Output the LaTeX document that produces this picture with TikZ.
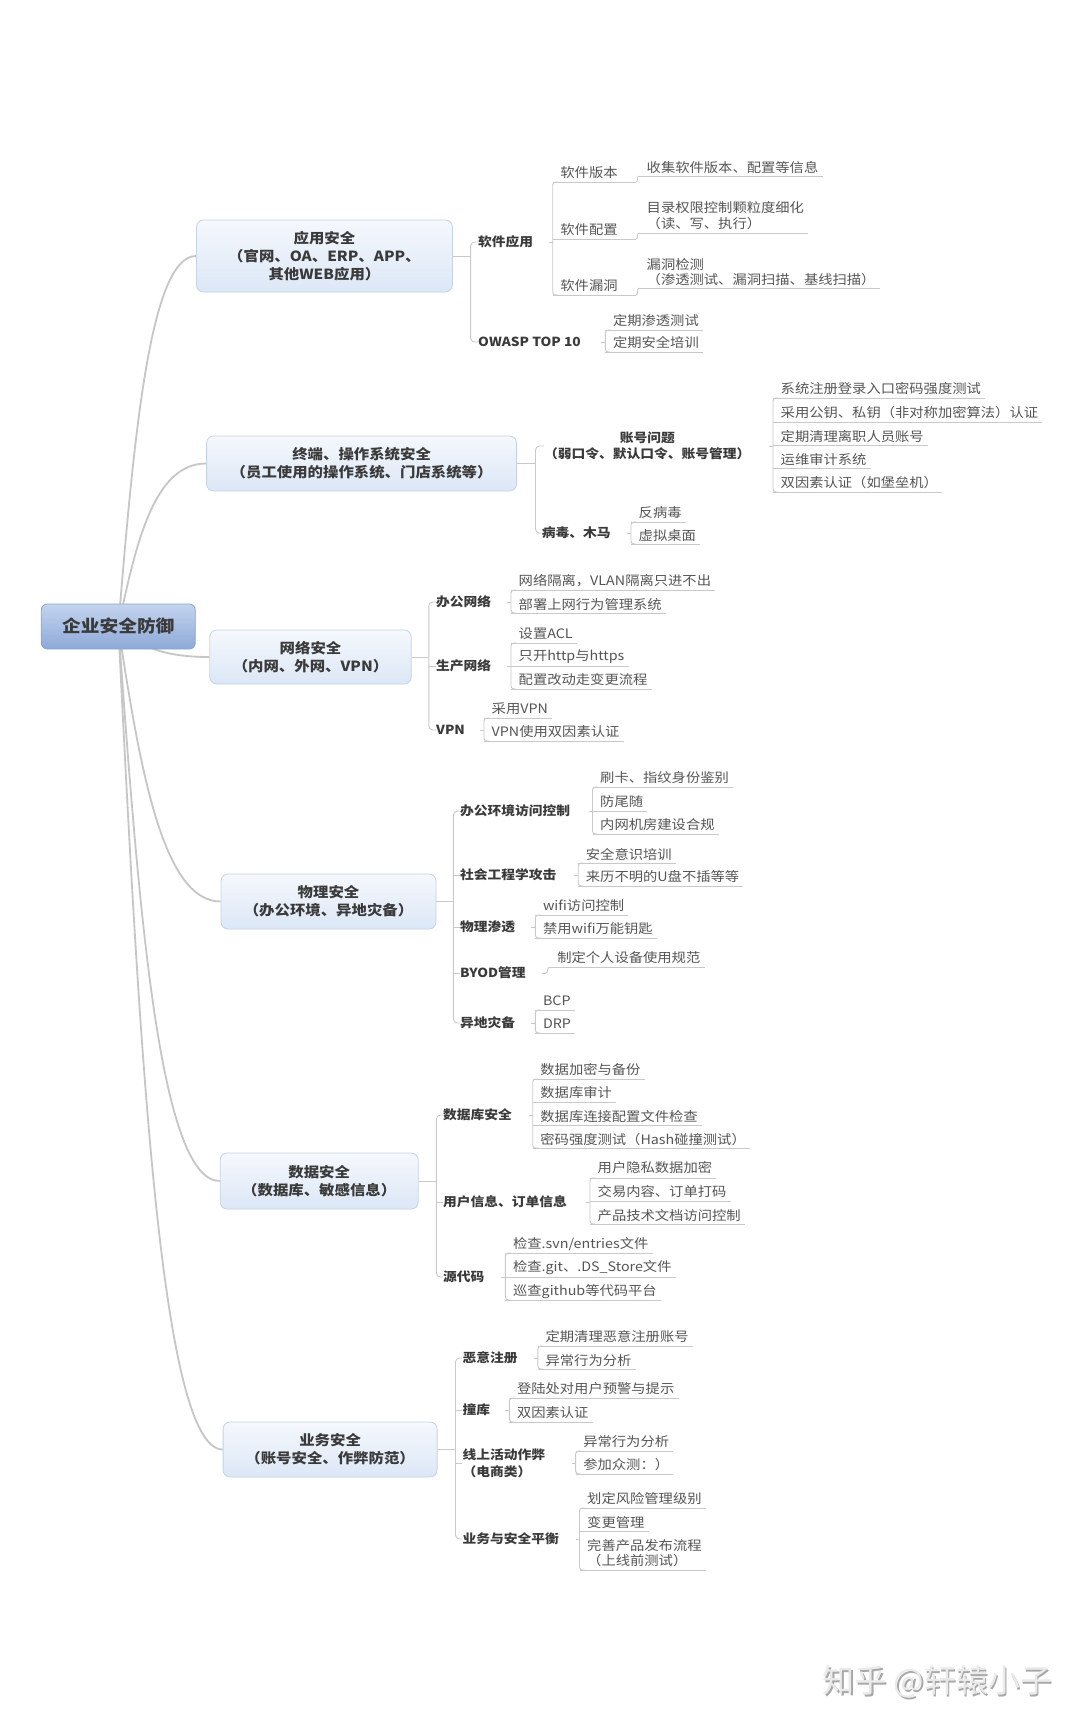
\documentclass[tikz,border=0pt]{standalone}
\usepackage{fontspec}
\setmainfont{Noto Sans CJK SC}[FakeStretch=1.1]
\newfontfamily\wmfont{Noto Sans CJK SC}
\usetikzlibrary{backgrounds,calc}
\definecolor{lineC}{HTML}{C9C9C9}
\definecolor{rootC}{HTML}{C6C6C6}
\definecolor{leafT}{HTML}{555555}
\definecolor{midT}{HTML}{3A3A3A}
\definecolor{topT}{HTML}{3A3A3A}
\definecolor{topB}{HTML}{C6D3E6}
\definecolor{topTop}{HTML}{F5F8FD}
\definecolor{topBot}{HTML}{DCE7F6}
\definecolor{rootB}{HTML}{8BA5D1}
\definecolor{rootTop}{HTML}{C3D4EE}
\definecolor{rootBot}{HTML}{8EA9D8}
\definecolor{wmT}{HTML}{EAEAEA}
\definecolor{wmS}{HTML}{A8A8A8}
\tikzset{
  conn/.style={draw=lineC,line width=0.9pt},
  rootlink/.style={draw=rootC,line width=1.8pt},
  leaf/.style={anchor=west,inner sep=0pt,text=leafT,font=\fontsize{13}{15.5}\selectfont,align=left},
  mid/.style={anchor=west,inner sep=0pt,text=midT,font=\bfseries\fontsize{12.5}{16.5}\selectfont,align=left},
  topic/.style={rounded corners=7pt,draw=topB,line width=0.8pt,top color=topTop,bottom color=topBot,text=topT,font=\bfseries\fontsize{14}{18}\selectfont,align=center,inner sep=0pt},
  rootbox/.style={rounded corners=6pt,draw=rootB,line width=0.8pt,top color=rootTop,bottom color=rootBot,text=topT,font=\bfseries\fontsize{17}{22}\selectfont,inner sep=0pt,minimum width=154pt,minimum height=45pt},
}
\newcommand\lf[5]{%
  \node[leaf] (#1) at (#2+7.5,#3) {#4};
  \coordinate (#1u0) at (#2,#5);
  \path (#1.east |- #1u0) ++(4,0) coordinate (#1u1);
  \draw[conn] (#1u0) -- (#1u1);}
\newcommand\lfx[6]{%
  \node[leaf] (#1) at (#2+7.5,#3) {#4};
  \coordinate (#1u0) at (#2,#5);
  \coordinate (#1u1) at (#6,#5);
  \draw[conn] (#1u0) -- (#1u1);}
\newcommand\brk[2]{\draw[conn,rounded corners=3pt] ([xshift=5pt]#1u0) -- (#1u0) -- (#2u0) -- ([xshift=5pt]#2u0);}
\newcommand\stub[3]{\coordinate (#1s) at (#2,#3); \draw[conn] ([xshift=-4pt]#1s) -- (#1s);}
\begin{document}
\begin{tikzpicture}[x=1pt,y=-1pt]
\useasboundingbox (0,0) rectangle (1080,1729);

% root and topics
\node[rootbox] (root) at (118.3,626.5) {企业安全防御};
\node[topic,minimum width=256pt,minimum height=72pt] (t1) at (324.4,256) {应用安全\\（官网、OA、ERP、APP、\\其他WEB应用）};
\node[topic,minimum width=310pt,minimum height=55pt] (t2) at (361.6,463.5) {终端、操作系统安全\\（员工使用的操作系统、门店系统等）};
\node[topic,minimum width=201.5pt,minimum height=54pt] (t3) at (310.5,657) {网络安全\\（内网、外网、VPN）};
\node[topic,minimum width=215pt,minimum height=55pt] (t4) at (328.5,901.5) {物理安全\\（办公环境、异地灾备）};
\node[topic,minimum width=198pt,minimum height=56pt] (t5) at (319.2,1181) {数据安全\\（数据库、敏感信息）};
\node[topic,minimum width=214pt,minimum height=55pt] (t6) at (330.1,1449.5) {业务安全\\（账号安全、作弊防范）};

\begin{scope}[on background layer]
\fill[white] (0,0) rectangle (1080,1729);
\draw[rootlink] (root.center) .. controls (133.6,441.5) and (149.5,256) .. (t1.west);
\draw[rootlink] (root.center) .. controls (135.7,545) and (153.4,463.5) .. (t2.west);
\draw[rootlink] (root.center) .. controls (136.3,642) and (154.7,657) .. (t3.west);
\draw[rootlink] (root.center) .. controls (140,770) and (163,901.5) .. (t4.west);
\draw[rootlink] (root.center) .. controls (138.4,904) and (158.8,1181) .. (t5.west);
\draw[rootlink] (root.center) .. controls (139,1038) and (160,1449.5) .. (t6.west);
\end{scope}

% ===== Section 1
\node[mid] (m11) at (478,242) {软件应用};
\node[mid] (m12) at (478,342) {OWASP TOP 10};
\draw[conn] (t1.east) -- (470.6,256);
\draw[conn,rounded corners=4pt] (m11.west) -- (470.6,242) -- (470.6,342) -- (m12.west);

\stub{m11}{552.7}{242}
\lfx{a1}{552.7}{173}{软件版本}{182}{636}
\lfx{a2}{552.7}{230}{软件配置}{239}{636}
\lfx{a3}{552.7}{286}{软件漏洞}{295}{636}
\brk{a1}{a3}
\lf{a11}{639}{168}{收集软件版本、配置等信息}{176}
\lf{a21}{639}{215.5}{目录权限控制颗粒度细化\\（读、写、执行）}{233}
\lf{a31}{639}{272}{漏洞检测\\（渗透测试、漏洞扫描、基线扫描）}{288}
\draw[conn] (a1u1) to[out=0,in=180] (a11u0);
\draw[conn] (a2u1) to[out=0,in=180] (a21u0);
\draw[conn] (a3u1) to[out=0,in=180] (a31u0);

\stub{m12}{605.3}{342}
\lf{b1}{605.3}{321}{定期渗透测试}{330}
\lf{b2}{605.3}{343}{定期安全培训}{352}
\brk{b1}{b2}

% ===== Section 2
\node[mid,align=center] (m21) at (544,446) {账号问题\\（弱口令、默认口令、账号管理）};
\node[mid] (m22) at (541.6,533) {病毒、木马};
\draw[conn] (t2.east) -- (535.5,463.5);
\draw[conn,rounded corners=4pt] (m21.west) -- (535.5,446) -- (535.5,533) -- (m22.west);

\stub{m21}{773}{446}
\lf{c1}{773}{389}{系统注册登录入口密码强度测试}{398}
\lf{c2}{773}{413}{采用公钥、私钥（非对称加密算法）认证}{422}
\lf{c3}{773}{437}{定期清理离职人员账号}{445}
\lf{c4}{773}{460}{运维审计系统}{468}
\lf{c5}{773}{483}{双因素认证（如堡垒机）}{492}
\brk{c1}{c5}

\stub{m22}{631}{533}
\lf{d1}{631}{513}{反病毒}{522}
\lf{d2}{631}{536}{虚拟桌面}{544}
\brk{d1}{d2}

% ===== Section 3
\node[mid] (m31) at (436,602) {办公网络};
\node[mid] (m32) at (436,666) {生产网络};
\node[mid] (m33) at (436,730) {VPN};
\draw[conn] (t3.east) -- (428.8,657);
\draw[conn,rounded corners=4pt] (m31.west) -- (428.8,602) -- (428.8,730) -- (m33.west);
\draw[conn] (428.8,666) -- (m32.west);

\stub{m31}{511}{602}
\lf{e1}{511}{581}{网络隔离，VLAN隔离只进不出}{590}
\lf{e2}{511}{605}{部署上网行为管理系统}{613}
\brk{e1}{e2}

\stub{m32}{511}{666}
\lf{f1}{511}{634}{设置ACL}{643}
\lf{f2}{511}{657}{只开http与https}{666}
\lf{f3}{511}{680}{配置改动走变更流程}{689}
\brk{f1}{f3}

\stub{m33}{484}{730}
\lf{g1}{484}{709}{采用VPN}{718}
\lf{g2}{484}{732}{VPN使用双因素认证}{741}
\brk{g1}{g2}

% ===== Section 4
\node[mid] (m41) at (459.8,811) {办公环境访问控制};
\node[mid] (m42) at (459.8,875) {社会工程学攻击};
\node[mid] (m43) at (459.8,927) {物理渗透};
\node[mid] (m44) at (459.8,973) {BYOD管理};
\node[mid] (m45) at (459.8,1023) {异地灾备};
\draw[conn] (t4.east) -- (453.4,901.5);
\draw[conn,rounded corners=4pt] (m41.west) -- (453.4,811) -- (453.4,1023) -- (m45.west);
\draw[conn] (453.4,875) -- (m42.west);
\draw[conn] (453.4,927) -- (m43.west);
\draw[conn] (453.4,973) -- (m44.west);

\stub{m41}{592.5}{811}
\lf{h1}{592.5}{778}{刷卡、指纹身份鉴别}{787}
\lf{h2}{592.5}{802}{防尾随}{811}
\lf{h3}{592.5}{825}{内网机房建设合规}{834}
\brk{h1}{h3}

\stub{m42}{578.2}{875}
\lf{i1}{578.2}{854}{安全意识培训}{863}
\lf{i2}{578.2}{877}{来历不明的U盘不插等等}{886}
\brk{i1}{i2}

\stub{m43}{535.3}{927}
\lf{j1}{535.3}{906}{wifi访问控制}{915}
\lf{j2}{535.3}{929}{禁用wifi万能钥匙}{938}
\brk{j1}{j2}

\stub{m44}{545.7}{973}
\lf{k1}{549.6}{958}{制定个人设备使用规范}{967}
\draw[conn] (m44s) to[out=0,in=180] (k1u0);

\stub{m45}{535.3}{1023}
\lf{l1}{535.3}{1001}{BCP}{1010}
\lf{l2}{535.3}{1024}{DRP}{1033}
\brk{l1}{l2}

% ===== Section 5
\node[mid] (m51) at (443,1115) {数据库安全};
\node[mid] (m52) at (443,1202) {用户信息、订单信息};
\node[mid] (m53) at (443,1277) {源代码};
\draw[conn] (t5.east) -- (436.4,1181);
\draw[conn,rounded corners=4pt] (m51.west) -- (436.4,1115) -- (436.4,1277) -- (m53.west);
\draw[conn] (436.4,1202) -- (m52.west);

\stub{m51}{532.7}{1115}
\lf{n1}{532.7}{1070}{数据加密与备份}{1079}
\lf{n2}{532.7}{1093}{数据库审计}{1102}
\lf{n3}{532.7}{1117}{数据库连接配置文件检查}{1125}
\lf{n4}{532.7}{1140}{密码强度测试（Hash碰撞测试）}{1148}
\brk{n1}{n4}

\stub{m52}{590}{1202}
\lf{o1}{590}{1168}{用户隐私数据加密}{1178}
\lf{o2}{590}{1192}{交易内容、订单打码}{1201}
\lf{o3}{590}{1216}{产品技术文档访问控制}{1224}
\brk{o1}{o3}

\stub{m53}{505.4}{1277}
\lf{p1}{505.4}{1244}{检查.svn/entries文件}{1253}
\lf{p2}{505.4}{1268}{检查.git、.DS\_Store文件}{1277}
\lf{p3}{505.4}{1292}{巡查github等代码平台}{1300}
\brk{p1}{p3}

% ===== Section 6
\node[mid] (m61) at (462.4,1358) {恶意注册};
\node[mid] (m62) at (462.4,1410) {撞库};
\node[mid] (m63) at (462.4,1463) {线上活动作弊\\（电商类）};
\node[mid] (m64) at (462.4,1539) {业务与安全平衡};
\draw[conn] (t6.east) -- (455.5,1449.5);
\draw[conn,rounded corners=4pt] (m61.west) -- (455.5,1358) -- (455.5,1539) -- (m64.west);
\draw[conn] (455.5,1410) -- (m62.west);
\draw[conn] (455.5,1463) -- (m63.west);

\stub{m61}{537.9}{1358}
\lf{q1}{537.9}{1337}{定期清理恶意注册账号}{1346}
\lf{q2}{537.9}{1361}{异常行为分析}{1369}
\brk{q1}{q2}

\stub{m62}{509.3}{1410}
\lf{r1}{509.3}{1389}{登陆处对用户预警与提示}{1398}
\lf{r2}{509.3}{1413}{双因素认证}{1422}
\brk{r1}{r2}

\stub{m63}{575.6}{1463}
\lf{s1}{575.6}{1442}{异常行为分析}{1451}
\lf{s2}{575.6}{1465}{参加众测：）}{1474}
\brk{s1}{s2}

\stub{m64}{579.5}{1539}
\lf{u1}{579.5}{1499}{划定风险管理级别}{1508}
\lf{u2}{579.5}{1522}{变更管理}{1531}
\lf{u3}{579.5}{1553}{完善产品发布流程\\（上线前测试）}{1570}
\brk{u1}{u3}

% watermark
\node[text=wmS,font=\wmfont\fontsize{32}{34}\selectfont,inner sep=0pt] (wms) at (939,1683.5) {知乎 @轩辕小子};
\node[text=wmT,font=\wmfont\fontsize{32}{34}\selectfont,inner sep=0pt] (wm) at (937.5,1682) {知乎 @轩辕小子};
\end{tikzpicture}
\end{document}
